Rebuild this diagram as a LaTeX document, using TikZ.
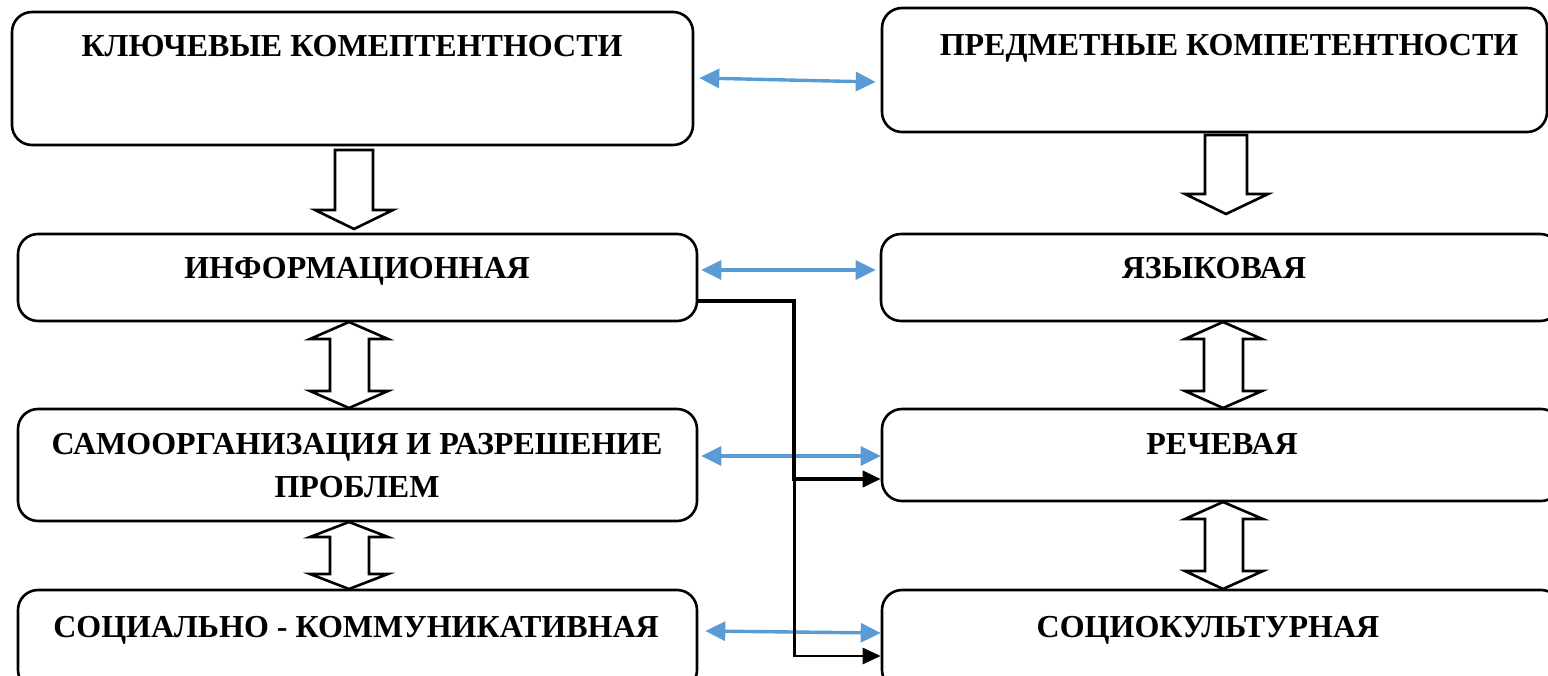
\documentclass[tikz,border=0pt]{standalone}
\usepackage{fontspec}
\setmainfont{Liberation Serif}
\usetikzlibrary{arrows.meta,calc}
\definecolor{arrblue}{RGB}{91,155,213}
\tikzset{
  box/.style={draw=black, line width=2.6pt, rounded corners=20pt, minimum width=#1, inner sep=0pt},
  lbl/.style={font=\fontsize{32}{43}\selectfont\bfseries, inner sep=0pt, anchor=base},
  bluearr/.style={draw=arrblue, line width=3.4pt, {Triangle[length=20pt,width=19pt]}-{Triangle[length=20pt,width=19pt]}},
  blkarr/.style={draw=black, line width=#1, -{Triangle[length=18pt,width=16pt]}},
  blockarr/.style={draw=black, line width=2.6pt, fill=white, line join=miter}
}
\begin{document}
\begin{tikzpicture}[x=1pt,y=-1pt]
\useasboundingbox (0,0) rectangle (1548,675);
\clip (0,0) rectangle (1548,675);
\fill[white] (0,0) rectangle (1548,675);
% boxes
\node[box=681pt, minimum height=133pt] (b1) at (352.5,78.5) {};
\node[box=665pt, minimum height=124pt] (b2) at (1214.5,70) {};
\node[box=679pt, minimum height=87pt] (b3) at (357.5,277.5) {};
\node[box=679pt, minimum height=87pt] (b4) at (1220.5,277.5) {};
\node[box=679pt, minimum height=112pt] (b5) at (357.5,465) {};
\node[box=679pt, minimum height=92pt] (b6) at (1221.5,455) {};
\node[box=679pt, minimum height=100pt] (b7) at (357.5,640) {};
\node[box=679pt, minimum height=100pt] (b8) at (1221.5,640) {};
% labels
\node[lbl] (t1) at (352,56) {КЛЮЧЕВЫЕ КОМЕПТЕНТНОСТИ};
\node[lbl] (t2) at (1229,55) {ПРЕДМЕТНЫЕ КОМПЕТЕНТНОСТИ};
\node[lbl] (t3) at (357,278) {ИНФОРМАЦИОННАЯ};
\node[lbl] (t4) at (1214,278) {ЯЗЫКОВАЯ};
\node[lbl] (t5a) at (357,454) {САМООРГАНИЗАЦИЯ И РАЗРЕШЕНИЕ};
\node[lbl] (t5b) at (357,497) {ПРОБЛЕМ};
\node[lbl] (t6) at (1222,454) {РЕЧЕВАЯ};
\node[lbl] (t7) at (356,637) {СОЦИАЛЬНО - КОММУНИКАТИВНАЯ};
\node[lbl] (t8) at (1208,637) {СОЦИОКУЛЬТУРНАЯ};
% block arrows
\draw[blockarr] (335,150) -- (373,150) -- (373,210) -- (393,210) -- (354,229) -- (315,210) -- (335,210) -- cycle;
\draw[blockarr] (1205,135) -- (1247,135) -- (1247,194) -- (1268,194) -- (1226,214) -- (1185,194) -- (1205,194) -- cycle;
\draw[blockarr] (349,322) -- (388,339) -- (369,339) -- (369,391) -- (388,391) -- (349,408) -- (310,391) -- (330,391) -- (330,339) -- (310,339) -- cycle;
\draw[blockarr] (349,522) -- (388,537) -- (369,537) -- (369,574) -- (388,574) -- (349,589) -- (310,574) -- (330,574) -- (330,537) -- (310,537) -- cycle;
\draw[blockarr] (1223,322) -- (1262,339) -- (1243,339) -- (1243,391) -- (1262,391) -- (1223,408) -- (1185,391) -- (1204,391) -- (1204,339) -- (1185,339) -- cycle;
\draw[blockarr] (1223,502) -- (1263,519) -- (1243,519) -- (1243,571) -- (1263,571) -- (1223,589) -- (1185,571) -- (1205,571) -- (1205,519) -- (1185,519) -- cycle;
% blue double arrows
\draw[bluearr] ([xshift=5pt,yshift=0.5pt]b1.east) -- ([xshift=-5pt,yshift=-12pt]b2.west);
\draw[bluearr] ([xshift=3pt,yshift=7.5pt]b3.east) -- ([xshift=-4pt,yshift=7.5pt]b4.west);
\draw[bluearr] ([xshift=3pt,yshift=9pt]b5.east) -- ([yshift=-1pt]b6.west);
\draw[bluearr] ([xshift=7pt,yshift=9pt]b7.east) -- ([yshift=7pt]b8.west);
% black connectors
\draw[blkarr=2.6pt] ([yshift=-23.5pt]b3.east) -- ++(96,0) |- ([yshift=-16pt]b8.west);
\draw[blkarr=4pt] ([yshift=-23.5pt]b3.east) -- ++(96,0) |- ([yshift=-24pt]b6.west);
\end{tikzpicture}
\end{document}
